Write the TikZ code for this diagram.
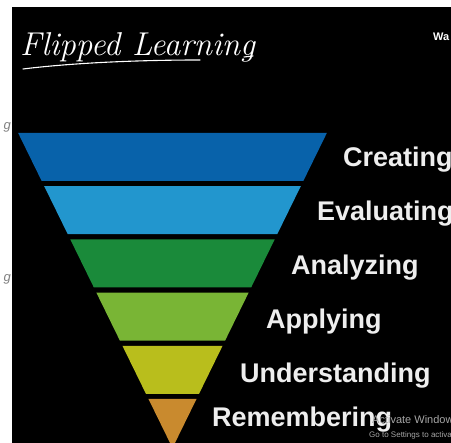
\documentclass[tikz,border=0pt]{standalone}
\usepackage{fontspec}
\setsansfont{Liberation Sans}
\usepackage{xcolor}
\usetikzlibrary{positioning}

\definecolor{creatingblue}{HTML}{0862AA}
\definecolor{evalblue}{HTML}{2296CE}
\definecolor{analygreen}{HTML}{1A8A3A}
\definecolor{applygreen}{HTML}{79B535}
\definecolor{understyellow}{HTML}{B9BE1C}
\definecolor{rememorange}{HTML}{C98A2E}
\definecolor{labelgray}{HTML}{EEEEEE}

\tikzset{
  band/.style={draw=none},
  level/.style={anchor=base west, inner sep=0pt, text=labelgray,
    font=\sffamily\bfseries\fontsize{27}{27}\selectfont},
  chalk/.style={white, line width=1.1pt, line cap=round}
}

\begin{document}
\begin{tikzpicture}[x=1pt,y=1pt]

  \useasboundingbox (0,0) rectangle (451,443);
  \clip (0,0) rectangle (451,443);

  % screen
  \fill[white] (0,0) rectangle (451,443);
  \fill[black] (12,0) rectangle (451,436);

  \def\cx{172.5}
  \def\slope{0.49}

  % funnel bands
  \foreach \i/\col in {0/creatingblue,1/evalblue,2/analygreen,3/applygreen,4/understyellow}{
    \pgfmathsetmacro{\yt}{443-(133+53.2*\i)}
    \pgfmathsetmacro{\yb}{\yt-48}
    \pgfmathsetmacro{\wt}{\slope*(\yt+5)}
    \pgfmathsetmacro{\wb}{\slope*(\yb+5)}
    \fill[band,\col] ({\cx-\wt},\yt) -- ({\cx+\wt},\yt) -- ({\cx+\wb},\yb) -- ({\cx-\wb},\yb) -- cycle;
  }
  \fill[band,rememorange] ({\cx-\slope*49},44) -- ({\cx+\slope*49},44) -- (\cx,-5) -- cycle;

  % level labels
  \node[level] (creating) at (343,276) {Creating};
  \node[level] (evaluating) at (317,222) {Evaluating};
  \node[level] (analyzing) at (291,168) {Analyzing};
  \node[level] (applying) at (266,114) {Applying};
  \node[level] (understanding) at (240,60) {Understanding};
  \node[level] (remembering) at (212,16) {Remembering};

  % title
  \node[anchor=base west, inner sep=0pt, white, font=\itshape\fontsize{33}{33}\selectfont] (title) at (20,387) {Flipped Learning};
  \draw[chalk] (23,374) .. controls (80,381) and (150,383) .. (200,383);
  \draw[chalk] (244,386) -- (253,387);

  % screen leftovers
  \node[anchor=base west, inner sep=0pt, white, font=\sffamily\bfseries\fontsize{11}{11}\selectfont] (wa) at (433,402) {Wa};
  \node[anchor=base east, inner sep=0pt, gray, font=\sffamily\itshape\fontsize{13}{13}\selectfont] (gone) at (11,313) {g};
  \node[anchor=base east, inner sep=0pt, gray, font=\sffamily\itshape\fontsize{13}{13}\selectfont] (gtwo) at (11,161) {g};
  \node[anchor=base west, inner sep=0pt, gray!70, font=\sffamily\fontsize{11}{11}\selectfont] (activate) at (372,19) {Activate Windows};
  \node[anchor=base west, inner sep=0pt, gray!70, font=\sffamily\fontsize{8}{8}\selectfont] (settings) at (369,5) {Go to Settings to activate Windows.};

\end{tikzpicture}
\end{document}
